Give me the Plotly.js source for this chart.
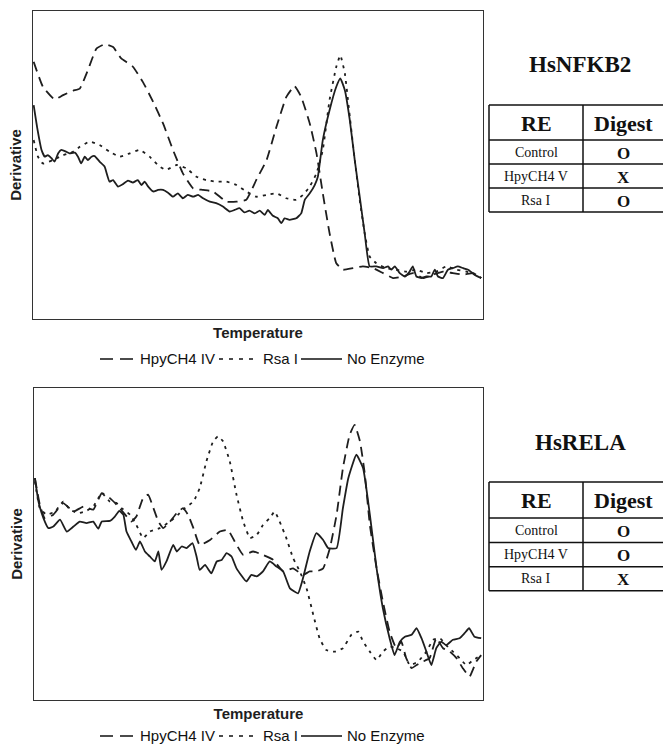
<!DOCTYPE html>
<html>
<head>
<meta charset="utf-8">
<script src="https://cdn.plot.ly/plotly-3.0.1.min.js"></script>
<style>html,body{margin:0;padding:0;background:#fff;overflow:hidden;}#chart{width:663px;height:744px;}</style>
</head>
<body>
<div id="chart"></div>
<script>
// ---------- HsNFKB2 (top panel) ----------
const nfkbHpyX = [0.15,2.2,4.8,6.7,8.9,10.4,12.2,14.1,15.9,17.8,19.6,22.2,24.4,26.7,28.9,31.1,33.3,35.6,37.8,40.0,43.0,45.2,47.4,49.6,51.9,54.1,56.3,58.1,59.6,61.5,63.0,64.4,65.9,67.4,68.9,71.1,73.3,75.6,77.8,80.0,82.2,84.4,86.7,88.9,91.1,93.3,95.6,97.8,99.6];
const nfkbHpyY = [83.5,75.4,71.3,72.7,74.1,74.8,80.8,87.8,89.2,88.3,84.6,81.9,77.0,70.5,63.5,54.9,47.3,42.4,41.9,41.4,38.1,38.1,38.7,45.1,51.6,62.4,72.1,75.6,72.1,63.5,53.8,40.8,27.9,18.1,16.0,16.5,17.1,16.5,14.9,13.3,13.8,14.9,13.3,14.4,15.4,14.9,14.4,14.9,13.3];

const nfkbRsaX = [0.15,1.1,2.2,4.4,6.7,8.9,10.4,12.6,14.8,17.0,19.3,21.5,23.7,25.9,28.1,29.6,31.9,34.1,36.3,38.5,40.7,43.0,45.2,47.4,49.6,51.9,54.1,56.3,58.5,60.0,61.5,63.0,64.4,65.9,67.4,68.3,69.3,70.4,71.5,72.6,73.7,74.8,76.3,78.5,80.7,83.0,85.2,87.4,89.6,91.9,94.1,96.3,98.5,99.6];
const nfkbRsaY = [58.1,52.7,50.5,51.6,53.2,54.3,55.9,57.6,56.5,54.3,52.7,53.8,54.9,52.7,49.5,48.4,50.0,48.9,46.2,45.1,44.6,44.6,43.5,41.4,39.7,40.3,40.8,39.2,38.7,40.3,43.0,47.3,54.9,71.1,81.9,85.6,79.7,65.7,51.6,38.7,27.9,20.3,18.1,16.5,16.0,15.4,16.0,14.9,15.4,17.1,16.0,15.4,14.4,13.3];

const nfkbNoneX = [0.15,0.9,1.9,2.6,3.3,4.1,4.8,5.6,6.3,7.4,8.1,9.3,10.0,10.7,11.5,12.2,13.0,13.7,14.8,15.9,17.0,17.8,18.9,20.0,21.1,22.2,23.3,24.1,24.8,25.6,26.7,27.8,28.9,30.0,31.1,32.2,33.3,34.4,35.6,36.7,37.8,39.3,40.7,42.2,43.7,44.8,45.9,47.0,48.1,49.3,50.4,51.5,52.2,53.3,54.4,55.2,55.9,57.0,58.5,59.6,60.4,61.5,62.6,63.3,64.4,65.9,67.4,68.3,69.3,70.4,71.5,72.6,73.7,74.8,76.3,77.8,78.9,79.6,80.4,81.5,82.6,83.7,84.4,85.2,86.3,87.4,88.5,89.3,90.0,91.1,92.2,93.3,94.4,95.6,96.7,98.1,99.6];
const nfkbNoneY = [69.4,62.4,54.9,52.7,53.2,52.2,51.1,53.8,54.9,54.3,53.8,54.0,52.7,50.5,52.7,51.6,52.7,52.9,51.1,49.5,44.6,45.1,43.0,43.8,44.9,44.3,45.1,43.5,44.6,43.0,41.4,41.9,41.9,41.0,39.7,40.8,39.2,40.3,39.7,40.3,39.2,38.1,37.6,36.5,34.9,35.4,36.0,34.6,35.2,34.3,35.2,33.8,35.4,33.5,32.7,31.1,32.7,32.2,32.7,34.3,38.7,40.8,43.5,46.2,58.1,67.8,75.4,78.1,74.3,64.6,51.6,39.7,27.9,17.1,17.1,16.5,17.1,16.0,17.1,14.9,13.8,15.4,17.1,13.8,13.3,13.8,13.8,16.0,13.8,13.3,16.0,16.5,17.1,16.5,16.0,14.4,13.3];

// ---------- HsRELA (bottom panel) ----------
const relaHpyX = [0.2,1.3,2.4,4.3,6.5,8.8,11.0,13.2,15.1,16.9,18.4,20.3,21.7,22.8,24.3,25.4,26.6,27.7,28.8,30.3,31.8,33.2,34.3,35.5,36.9,39.2,41.4,43.2,44.7,46.6,48.8,51.0,53.3,55.5,57.7,59.9,61.4,62.9,64.4,65.9,67.4,68.8,70.3,71.4,72.6,73.7,74.8,76.3,77.7,79.2,80.7,81.8,82.9,84.1,85.2,86.6,88.1,89.6,91.1,92.6,94.1,95.5,97.0,98.5,99.6];
const relaHpyY = [71.1,62.6,58.3,59.4,63.1,60.4,62.0,61.0,66.3,64.7,62.6,59.4,57.2,58.8,64.7,65.8,61.5,57.2,55.1,57.2,59.9,61.5,59.4,55.1,49.7,51.3,54.0,54.5,50.8,46.5,47.6,46.5,44.9,41.2,42.2,40.1,41.2,41.2,42.2,48.7,59.4,74.3,85.0,88.2,82.9,72.2,56.1,42.2,31.6,21.9,16.6,18.7,13.4,10.2,11.2,12.3,13.4,19.8,16.6,15.5,13.4,10.2,7.5,12.3,14.4];

const relaRsaX = [0.2,1.3,2.8,4.7,6.5,8.0,9.9,11.4,13.2,15.1,16.9,18.4,19.5,21.4,22.8,24.3,25.8,28.0,30.3,32.1,33.6,35.5,36.9,38.4,39.9,41.0,42.1,43.6,45.1,46.6,48.1,49.6,51.0,52.5,53.6,54.7,56.2,57.7,59.2,60.7,62.2,63.6,65.1,67.0,68.8,70.7,72.2,73.3,74.8,76.3,77.7,79.2,80.7,82.2,83.7,85.5,87.4,88.9,90.4,91.8,93.3,94.8,96.3,97.8,99.6];
const relaRsaY = [70.1,61.5,59.4,60.4,63.6,61.0,59.9,60.4,62.0,66.3,63.6,63.1,61.5,59.4,56.1,51.9,54.0,55.1,57.2,59.4,61.5,63.6,67.9,76.5,82.9,84.5,82.9,76.5,65.8,57.2,51.9,52.9,56.1,58.3,60.4,57.2,51.9,45.5,41.2,35.8,27.3,19.8,16.0,15.5,16.6,20.9,21.9,18.7,15.5,12.8,15.5,17.1,16.6,15.5,11.2,12.3,15.5,19.3,19.8,17.6,15.5,13.4,11.2,12.8,14.4];

const relaNoneX = [0.2,1.0,2.1,3.2,4.3,5.8,7.3,8.8,10.2,11.7,13.2,14.3,15.1,16.9,18.0,19.0,19.9,20.6,21.7,22.7,23.6,24.7,25.8,26.9,27.7,28.4,29.5,31.0,31.8,32.9,34.0,35.3,36.2,36.9,38.1,39.5,40.7,41.8,42.9,44.0,45.1,47.3,48.4,49.6,51.0,52.5,54.0,55.5,57.0,58.8,59.9,61.4,62.9,64.4,65.5,67.4,68.8,70.0,71.8,73.3,74.8,76.3,77.7,79.2,80.3,81.5,82.6,84.1,85.2,86.3,87.4,88.5,89.6,90.7,91.8,93.3,94.8,95.9,96.9,98.1,99.6];
const relaNoneY = [71.1,63.6,58.3,55.1,55.6,57.8,54.0,55.6,57.2,56.7,57.2,54.9,57.2,57.4,58.8,60.6,59.4,54.0,50.8,48.1,50.8,47.6,46.0,44.4,47.6,41.7,44.4,49.7,47.6,49.2,48.7,50.3,46.0,41.7,43.3,40.6,44.4,44.9,47.1,46.0,42.2,38.0,40.1,39.6,41.2,44.4,42.8,41.2,35.8,34.2,39.0,47.6,53.5,51.3,48.7,48.7,61.5,71.1,78.6,74.3,59.4,42.2,29.4,19.8,14.4,18.7,20.3,20.9,23.0,19.8,15.5,11.2,16.6,18.7,17.6,19.3,19.8,21.4,23.0,20.3,19.8];

// ---------- labels / tables ----------
const seriesNames = ['HpyCH4 IV', 'Rsa I', 'No Enzyme'];
const genes = ['HsNFKB2', 'HsRELA'];
const tableHeader = ['RE', 'Digest'];
const enzymes = ['Control', 'HpyCH4 V', 'Rsa I'];
const digestNFKB2 = ['O', 'X', 'O'];
const digestRELA = ['O', 'O', 'X'];
const xTitle = 'Temperature';
const yTitle = 'Derivative';

// ---------- styling ----------
const W = 663, H = 744;
const px = v => v / W;
const py = v => 1 - v / H;
const ink = '#1e1e1e';
const dashes = ['10px,6px', '3px,5px', 'solid'];
const legendDashes = ['13px,7px', '4px,6px', 'solid'];
const widths = [1.8, 1.8, 1.8];
const sans = 'Liberation Sans, Arial, sans-serif';
const serif = 'Liberation Serif, Times New Roman, serif';

const seriesTop = [[nfkbHpyX, nfkbHpyY], [nfkbRsaX, nfkbRsaY], [nfkbNoneX, nfkbNoneY]];
const seriesBot = [[relaHpyX, relaHpyY], [relaRsaX, relaRsaY], [relaNoneX, relaNoneY]];

const traces = [];
seriesTop.forEach((s, i) => traces.push({
  x: s[0], y: s[1], type: 'scatter', mode: 'lines', name: seriesNames[i],
  xaxis: 'x', yaxis: 'y', showlegend: false,
  line: {color: ink, width: widths[i], dash: dashes[i], shape: 'spline', smoothing: 0.4}
}));
seriesBot.forEach((s, i) => traces.push({
  x: s[0], y: s[1], type: 'scatter', mode: 'lines', name: seriesNames[i],
  xaxis: 'x2', yaxis: 'y2', showlegend: false,
  line: {color: ink, width: widths[i], dash: dashes[i], shape: 'spline', smoothing: 0.4}
}));

const axisBase = {
  range: [0, 100], showline: true, mirror: true, linecolor: '#333', linewidth: 1, automargin: false,
  showticklabels: false, ticks: '', showgrid: false, zeroline: false, fixedrange: true
};
const xTitleObj = {text: '<b>' + xTitle + '</b>', font: {family: sans, size: 15, color: ink}, standoff: 8};
const yTitleObj = {text: '<b>' + yTitle + '</b>', font: {family: sans, size: 15, color: ink}, standoff: 6};

const shapes = [];
const annotations = [];
function line(x0, y0, x1, y1, dash, width) {
  shapes.push({type: 'line', xref: 'paper', yref: 'paper', x0: px(x0), y0: py(y0), x1: px(x1), y1: py(y1),
    line: {color: '#111', width: width || 1.5, dash: dash || 'solid'}});
}
function text(t, x, y, size, bold, family, anchor) {
  annotations.push({xref: 'paper', yref: 'paper', x: px(x), y: py(y), xanchor: anchor || 'center', yanchor: 'middle',
    showarrow: false, text: bold ? '<b>' + t + '</b>' : t, font: {family: family || serif, size: size, color: '#111'}});
}
function table(gene, digest, titleY, rows) {
  text(gene, 580, titleY, 23, true);
  const left = 489, right = 666, mid = 583;
  rows.forEach(r => line(left, r, right, r));
  line(left, rows[0], left, rows[4]);
  line(mid, rows[0], mid, rows[4]);
  text(tableHeader[0], (left + mid) / 2, (rows[0] + rows[1]) / 2 + 1, 22, true);
  text(tableHeader[1], 623, (rows[0] + rows[1]) / 2 + 1, 22, true);
  enzymes.forEach((e, i) => {
    const cy = (rows[i + 1] + rows[i + 2]) / 2;
    text(e, (left + mid) / 2, cy, 14, false);
    text(digest[i], 623, cy + 1, 17, true);
  });
}
table(genes[0], digestNFKB2, 64, [105, 140, 164, 188, 212]);
table(genes[1], digestRELA, 442, [482, 518, 542.5, 566.7, 590.7]);

// legend drawn below each panel: sample line, then label
const legendSample = [[100, 133], [219, 258], [301, 342]];
const legendLabelX = [138, 261, 345];
function legend(yc) {
  seriesNames.forEach((n, i) => {
    line(legendSample[i][0], yc + 1, legendSample[i][1], yc + 1, legendDashes[i], 1.6);
    text(n, legendLabelX[i], yc, 15, false, sans, 'left');
  });
}
legend(358);
legend(735);

const layout = {
  width: W, height: H, paper_bgcolor: '#fff', plot_bgcolor: '#fff',
  margin: {l: 0, r: 0, t: 0, b: 0, autoexpand: false},
  xaxis: Object.assign({}, axisBase, {domain: [px(33), px(483)], anchor: 'y', title: xTitleObj}),
  yaxis: Object.assign({}, axisBase, {domain: [py(319), py(11)], anchor: 'x', title: yTitleObj}),
  xaxis2: Object.assign({}, axisBase, {domain: [px(34), px(483)], anchor: 'y2', title: xTitleObj}),
  yaxis2: Object.assign({}, axisBase, {domain: [py(700), py(388)], anchor: 'x2', title: yTitleObj}),
  shapes: shapes, annotations: annotations, showlegend: false
};

Plotly.newPlot('chart', traces, layout, {staticPlot: true, displayModeBar: false});
</script>
</body>
</html>
